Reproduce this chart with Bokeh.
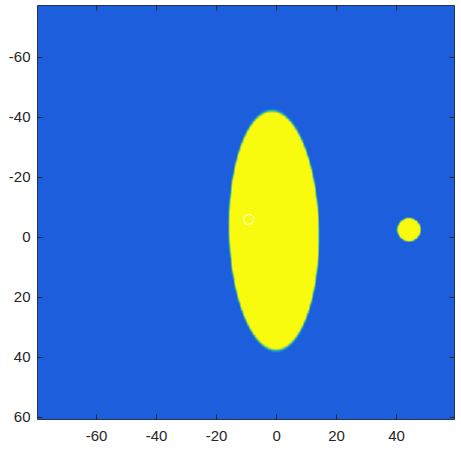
import numpy as np
from bokeh.plotting import figure
from bokeh.models import Range1d, FixedTicker
from bokeh.embed import file_html
from bokeh.resources import INLINE

# ---- data ----
x_extent = [-79.7, 59.3]
y_extent = [-77.3, 60.7]
x_ticks = [-60, -40, -20, 0, 20, 40]
y_ticks = [-60, -40, -20, 0, 20, 40, 60]
x_tick_labels = ["-60", "-40", "-20", "0", "20", "40"]
y_tick_labels = ["-60", "-40", "-20", "0", "20", "40", "60"]

ellipse_center = [-0.9, -2.3]
ellipse_semi_axes = [15.0, 40.0]
ellipse_tilt = 0.02          # radians, top leans left
disk_center = [44.1, -2.6]
disk_radius = 3.9
marker_x = [-9.3]
marker_y = [-6.0]

# colour anchors (parula-like), value 0 = background, 1 = object
anchor_t = [0.0, 0.4, 0.7, 1.0]
anchor_rgb = [(28, 94, 220), (20, 170, 210), (140, 200, 80), (249, 251, 14)]

# ---- build the image on a grid through the shapes ----
step = 0.25
nx = int(round((x_extent[1] - x_extent[0]) / step))
ny = int(round((y_extent[1] - y_extent[0]) / step))
xs = x_extent[0] + (np.arange(nx) + 0.5) * step
ys = y_extent[0] + (np.arange(ny) + 0.5) * step
X, Y = np.meshgrid(xs, ys)

dx = X - ellipse_center[0]
dy = Y - ellipse_center[1]
u = dx * np.cos(ellipse_tilt) - dy * np.sin(ellipse_tilt)
v = dx * np.sin(ellipse_tilt) + dy * np.cos(ellipse_tilt)
r_e = np.sqrt((u / ellipse_semi_axes[0]) ** 2 + (v / ellipse_semi_axes[1]) ** 2)
t_e = np.clip((1 - r_e) * ellipse_semi_axes[0] / 0.5 + 0.5, 0, 1)

r_d = np.sqrt((X - disk_center[0]) ** 2 + (Y - disk_center[1]) ** 2)
t_d = np.clip((disk_radius - r_d) / 0.5 + 0.5, 0, 1)

t = np.maximum(t_e, t_d)
rgb = np.zeros((ny, nx, 3))
for c in range(3):
    rgb[..., c] = np.interp(t, anchor_t, [a[c] for a in anchor_rgb])

img = np.empty((ny, nx), dtype=np.uint32)
view = img.view(dtype=np.uint8).reshape((ny, nx, 4))
view[..., 0] = rgb[..., 0].astype(np.uint8)
view[..., 1] = rgb[..., 1].astype(np.uint8)
view[..., 2] = rgb[..., 2].astype(np.uint8)
view[..., 3] = 255

# ---- figure ----
p = figure(frame_width=417, frame_height=414,
           x_range=Range1d(*x_extent), y_range=Range1d(y_extent[1], y_extent[0]),
           output_backend="svg", toolbar_location=None,
           min_border_left=37, min_border_top=5, min_border_right=3, min_border_bottom=28)
p.grid.visible = False
p.outline_line_color = "#262626"
p.outline_line_width = 1
p.background_fill_color = "white"
p.border_fill_color = "white"

p.image_rgba(image=[img], x=x_extent[0], y=y_extent[0],
             dw=x_extent[1] - x_extent[0], dh=y_extent[1] - y_extent[0])
p.scatter(marker_x, marker_y, size=10, fill_color=None, line_color="white", line_width=1)

# ticks on the top and right edges (box style), drawn as dashes clipped by the frame
p.scatter(x_ticks, [y_extent[0]] * len(x_ticks), marker="dash", angle=np.pi / 2,
          size=10, line_color="#262626", line_width=1)
p.scatter([x_extent[1]] * len(y_ticks), y_ticks, marker="dash",
          size=10, line_color="#262626", line_width=1)

for ax in (p.xaxis[0], p.yaxis[0]):
    ax.axis_line_color = None
    ax.major_tick_in = 5
    ax.major_tick_out = 0
    ax.minor_tick_line_color = None
    ax.major_tick_line_color = "#262626"
    ax.major_label_text_color = "#262626"
    ax.major_label_text_font = "Liberation Sans"
    ax.major_label_text_font_size = "15px"

p.xaxis.ticker = FixedTicker(ticks=x_ticks)
p.yaxis.ticker = FixedTicker(ticks=y_ticks)
p.xaxis.major_label_overrides = dict(zip(x_ticks, x_tick_labels))
p.yaxis.major_label_overrides = dict(zip(y_ticks, y_tick_labels))
p.xaxis.major_label_standoff = 11
p.yaxis.major_label_standoff = 7

open("out.html", "w").write(file_html(p, INLINE))
